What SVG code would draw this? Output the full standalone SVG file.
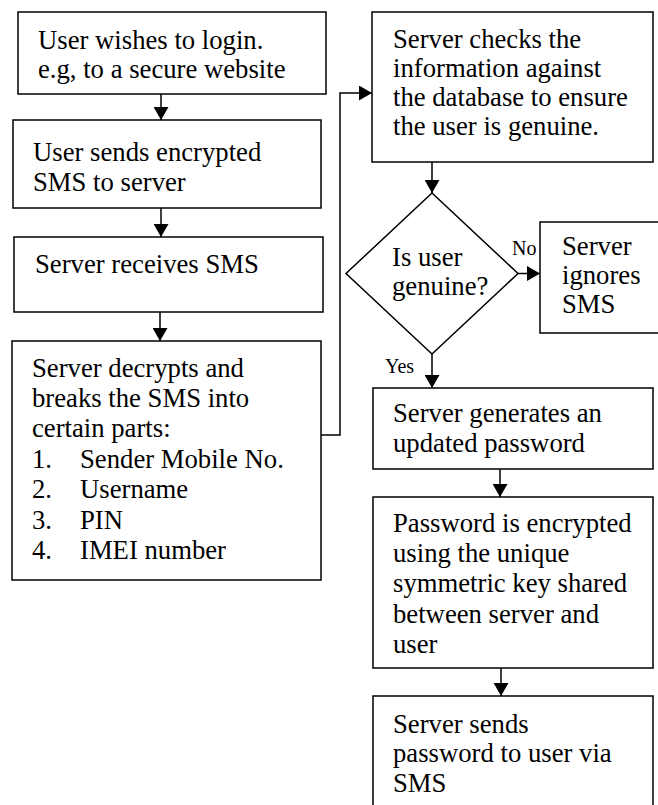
<svg xmlns="http://www.w3.org/2000/svg" width="658" height="805" viewBox="0 0 658 805">
<style>
.box{fill:#fff;stroke:#000;stroke-width:1.5}
text{font-family:'Liberation Serif','Times New Roman',Times,'Nimbus Roman','DejaVu Serif',serif;fill:#000}
.t{font-size:26.7px}
.s{font-size:20px}
.c{fill:none;stroke:#000;stroke-width:1.5}
</style>
<defs>
<marker id="ah" viewBox="0 0 13 15" refX="13" refY="7.5" markerWidth="13" markerHeight="15" markerUnits="userSpaceOnUse" orient="auto">
<path d="M0,0 L13,7.5 L0,15 Z" fill="#000"/>
</marker>
</defs>
<rect width="658" height="805" fill="#fff"/>
<g id="connectors">
<line class="c" x1="161" y1="94" x2="161" y2="120" marker-end="url(#ah)"/>
<line class="c" x1="161" y1="208" x2="161" y2="237" marker-end="url(#ah)"/>
<line class="c" x1="160" y1="312" x2="160" y2="341" marker-end="url(#ah)"/>
<polyline class="c" points="321,435 340,435 340,93 372,93" marker-end="url(#ah)"/>
<line class="c" x1="432" y1="162" x2="432" y2="193" marker-end="url(#ah)"/>
<line class="c" x1="508" y1="273.5" x2="540" y2="273.5" marker-end="url(#ah)"/>
<line class="c" x1="432" y1="354" x2="432" y2="388" marker-end="url(#ah)"/>
<line class="c" x1="500" y1="469" x2="500" y2="497" marker-end="url(#ah)"/>
<line class="c" x1="501" y1="668" x2="501" y2="696" marker-end="url(#ah)"/>
</g>
<g id="n1">
<rect class="box" x="18" y="12" width="308" height="82"/>
<text class="t" x="38" y="49">User wishes to login.</text>
<text class="t" x="38" y="78">e.g, to a secure website</text>
</g>
<g id="n2">
<rect class="box" x="13" y="120" width="308" height="88"/>
<text class="t" x="33" y="161">User sends encrypted</text>
<text class="t" x="33" y="191">SMS to server</text>
</g>
<g id="n3">
<rect class="box" x="14" y="237" width="309" height="75"/>
<text class="t" x="35" y="273">Server receives SMS</text>
</g>
<g id="n4">
<rect class="box" x="12" y="341" width="309" height="239"/>
<text class="t" x="32" y="377">Server decrypts and</text>
<text class="t" x="32" y="407">breaks the SMS into</text>
<text class="t" x="32" y="437">certain parts:</text>
<text class="t" x="32" y="468">1.</text><text class="t" x="80" y="468">Sender Mobile No.</text>
<text class="t" x="32" y="498">2.</text><text class="t" x="80" y="498">Username</text>
<text class="t" x="32" y="529">3.</text><text class="t" x="80" y="529">PIN</text>
<text class="t" x="32" y="559">4.</text><text class="t" x="80" y="559">IMEI number</text>
</g>
<g id="n5">
<rect class="box" x="372" y="12" width="281" height="150"/>
<text class="t" x="393" y="48">Server checks the</text>
<text class="t" x="393" y="77">information against</text>
<text class="t" x="393" y="106">the database to ensure</text>
<text class="t" x="393" y="135">the user is genuine.</text>
</g>
<g id="n6">
<polygon class="box" points="432,193 518,273.5 432,354 346,273.5"/>
<text class="t" x="392" y="266">Is user</text>
<text class="t" x="392" y="295">genuine?</text>
</g>
<g id="n7">
<rect class="box" x="540" y="222" width="130" height="111"/>
<text class="t" x="562" y="255">Server</text>
<text class="t" x="562" y="284">ignores</text>
<text class="t" x="562" y="313">SMS</text>
</g>
<g id="labels">
<text class="s" x="512" y="255">No</text>
<text class="s" x="385" y="373">Yes</text>
</g>
<g id="n8">
<rect class="box" x="373" y="388" width="280" height="81"/>
<text class="t" x="393" y="422">Server generates an</text>
<text class="t" x="393" y="452">updated password</text>
</g>
<g id="n9">
<rect class="box" x="373" y="497" width="280" height="171"/>
<text class="t" x="393" y="532">Password is encrypted</text>
<text class="t" x="393" y="562">using the unique</text>
<text class="t" x="393" y="592">symmetric key shared</text>
<text class="t" x="393" y="623">between server and</text>
<text class="t" x="393" y="653">user</text>
</g>
<g id="n10">
<rect class="box" x="373" y="696" width="280" height="120"/>
<text class="t" x="393" y="733">Server sends</text>
<text class="t" x="393" y="762">password to user via</text>
<text class="t" x="393" y="792">SMS</text>
</g>
</svg>
